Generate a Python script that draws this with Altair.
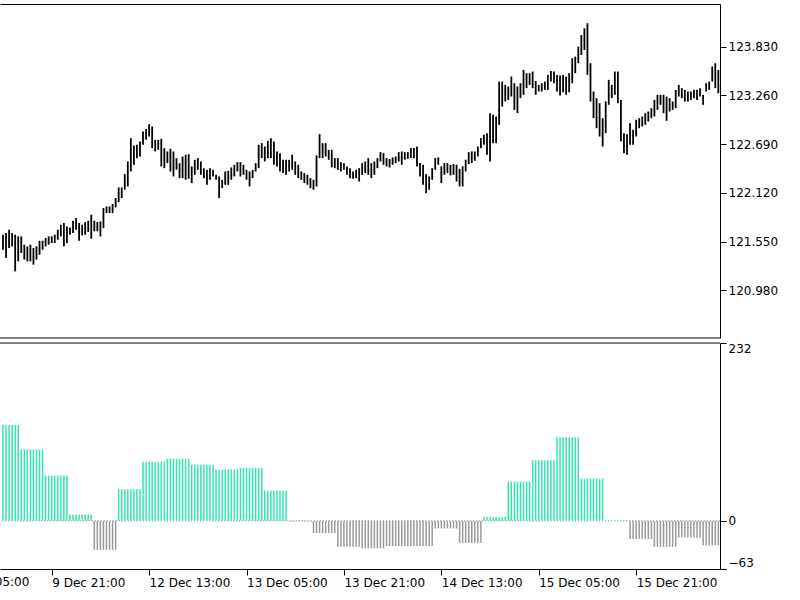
import altair as alt
import pandas as pd

# ---------------- data ----------------
# M30 bars: high / low prices, left to right
HIGH = [
    121.632, 121.651, 121.690, 121.651, 121.632, 121.612, 121.612, 121.515, 121.495, 121.515,
    121.476, 121.495, 121.561, 121.561, 121.593, 121.612, 121.612, 121.632, 121.690, 121.748,
    121.768, 121.729, 121.717, 121.795, 121.826, 121.768, 121.748, 121.779, 121.795, 121.865,
    121.795, 121.779, 121.787, 121.943, 121.962, 121.962, 121.990, 122.060, 122.184, 122.184,
    122.340, 122.488, 122.760, 122.675, 122.683, 122.722, 122.838, 122.869, 122.924, 122.897,
    122.741, 122.741, 122.753, 122.644, 122.605, 122.636, 122.605, 122.527,
    122.468, 122.546, 122.566, 122.573, 122.429, 122.507, 122.527, 122.488, 122.410, 122.390,
    122.410, 122.390, 122.332, 122.313, 122.274, 122.371, 122.379, 122.418, 122.449, 122.480,
    122.480, 122.449, 122.390, 122.371, 122.390, 122.468, 122.682, 122.702, 122.663, 122.729,
    122.760, 122.721, 122.605, 122.585, 122.507, 122.507, 122.507, 122.566, 122.488, 122.449,
    122.371, 122.352, 122.332, 122.293, 122.274, 122.558, 122.807, 122.702, 122.702, 122.624,
    122.624, 122.527, 122.527, 122.480, 122.468, 122.429, 122.410, 122.371, 122.390,
    122.410, 122.469, 122.488, 122.527, 122.469, 122.488, 122.527, 122.597, 122.585, 122.527,
    122.519, 122.535, 122.546, 122.597, 122.605, 122.597, 122.597, 122.644, 122.644, 122.663,
    122.469, 122.449, 122.340, 122.313, 122.410, 122.527, 122.535, 122.430, 122.469, 122.469,
    122.449, 122.457, 122.449, 122.402, 122.430, 122.508, 122.597, 122.605, 122.605, 122.663,
    122.761, 122.800, 122.819, 123.053, 123.033, 123.014, 123.422, 123.422, 123.383, 123.364,
    123.481, 123.403, 123.364, 123.403, 123.559, 123.520, 123.520, 123.539, 123.430, 123.383,
    123.403, 123.422, 123.500, 123.547, 123.539, 123.500, 123.493, 123.500, 123.481, 123.520,
    123.695, 123.714, 123.831, 123.967, 124.045, 124.104, 123.637, 123.306, 123.228, 123.169,
    122.994, 123.189, 123.442, 123.383, 123.539, 123.539, 123.208, 122.819, 122.807, 122.936,
    122.858, 122.975, 122.994, 123.014, 123.053, 123.072, 123.111, 123.208, 123.267, 123.267,
    123.267, 123.247, 123.228, 123.189, 123.325, 123.383, 123.345, 123.325, 123.306, 123.306,
    123.325, 123.325, 123.345, 123.267, 123.403, 123.422, 123.598, 123.637, 123.559,
]
LOW = [
    121.456, 121.359, 121.476, 121.495, 121.203, 121.320, 121.417, 121.340, 121.320, 121.320,
    121.281, 121.340, 121.398, 121.456, 121.495, 121.515, 121.534, 121.534, 121.573, 121.612,
    121.495, 121.534, 121.632, 121.651, 121.690, 121.561, 121.624, 121.632, 121.663, 121.585,
    121.671, 121.671, 121.612, 121.709, 121.885, 121.885, 121.885, 121.951, 122.013, 122.060,
    122.157, 122.196, 122.371, 122.449, 122.527, 122.546, 122.683, 122.741, 122.780, 122.644,
    122.605, 122.624, 122.430, 122.410, 122.469, 122.371, 122.313, 122.391,
    122.293, 122.293, 122.274, 122.285, 122.235, 122.332, 122.390, 122.332, 122.293, 122.215,
    122.274, 122.313, 122.274, 122.060, 122.176, 122.215, 122.215, 122.274, 122.313, 122.371,
    122.313, 122.332, 122.274, 122.196, 122.293, 122.371, 122.410, 122.527, 122.488, 122.527,
    122.527, 122.449, 122.429, 122.371, 122.352, 122.332, 122.371, 122.390, 122.332, 122.293,
    122.274, 122.235, 122.215, 122.176, 122.157, 122.196, 122.527, 122.527, 122.546, 122.507,
    122.418, 122.410, 122.390, 122.371, 122.390, 122.332, 122.293, 122.285, 122.293,
    122.254, 122.332, 122.352, 122.332, 122.293, 122.332, 122.410, 122.488, 122.449, 122.430,
    122.418, 122.449, 122.469, 122.488, 122.449, 122.508, 122.519, 122.527, 122.527, 122.430,
    122.313, 122.216, 122.118, 122.157, 122.274, 122.391, 122.449, 122.235, 122.332, 122.352,
    122.325, 122.332, 122.254, 122.196, 122.196, 122.371, 122.457, 122.469, 122.496, 122.546,
    122.644, 122.683, 122.566, 122.488, 122.702, 122.702, 122.916, 123.130, 123.189, 123.208,
    123.247, 123.091, 123.053, 123.228, 123.267, 123.345, 123.383, 123.345, 123.267, 123.306,
    123.306, 123.325, 123.325, 123.422, 123.403, 123.306, 123.259, 123.298, 123.267, 123.298,
    123.403, 123.520, 123.637, 123.734, 123.792, 123.500, 123.189, 122.994, 122.877, 122.780,
    122.663, 122.819, 123.150, 123.228, 123.267, 123.169, 122.722, 122.585, 122.566, 122.683,
    122.683, 122.780, 122.877, 122.897, 122.916, 122.955, 122.994, 123.014, 123.091, 123.150,
    123.053, 122.963, 123.072, 123.091, 123.111, 123.247, 123.228, 123.189, 123.189, 123.208,
    123.228, 123.208, 123.247, 123.150, 123.306, 123.325, 123.422, 123.345, 123.286,
]

# Indicator (one value per H4 period, 8 M30 bars each)
HIST_H4 = [125, 93, 59, 8, -38, 41, 77, 81, 73, 67, 69, 39, -1, -16, -34,
           -36, -33, -33, -10, -29, 5, 51, 79, 109, 55, 1, -24, -34, -22, -32]
H4_OFFSET = 2          # first visible bar is the 3rd M30 bar of its H4 period
BARS_PER_H4 = 8

# time axis (bar index -> label)
TICK_BARS = [-16, 16, 48, 80, 112, 144, 176, 208]
TICK_LABELS = ["9 Dec 05:00", "9 Dec 21:00", "12 Dec 13:00", "13 Dec 05:00",
               "13 Dec 21:00", "14 Dec 13:00", "15 Dec 05:00", "15 Dec 21:00"]

PRICE_TICKS = [120.980, 121.550, 122.120, 122.690, 123.260, 123.830]
HIST_TICKS = [-63, 0, 232]

X_DOMAIN = [-0.986, 235.55]
PRICE_DOMAIN = [120.424, 124.329]
HIST_DOMAIN = [-63, 232]

GREEN = "#33e6b0"
GREY = "#9a9a9a"
FONT = "DejaVu Sans"

# ---------------- tables ----------------
n = len(HIGH)
bars = pd.DataFrame({"i": list(range(n)), "high": HIGH, "low": LOW})
hv = [HIST_H4[(i + H4_OFFSET) // BARS_PER_H4] for i in range(n)]
hist = pd.DataFrame({
    "i": list(range(n)),
    "v": hv,
    "base": [0] * n,
    "dir": ["up" if v > 0 else "down" for v in hv],
})
in_dom = [(b, l) for b, l in zip(TICK_BARS, TICK_LABELS) if X_DOMAIN[0] <= b <= X_DOMAIN[1]]
out_dom = pd.DataFrame([{"i": b, "lab": l} for b, l in zip(TICK_BARS, TICK_LABELS)
                        if not (X_DOMAIN[0] <= b <= X_DOMAIN[1])])
label_expr = " : ".join(f"datum.value == {b} ? '{l}'" for b, l in in_dom) + " : ''"

# ---------------- encodings ----------------
x_scale = alt.Scale(domain=X_DOMAIN, nice=False, zero=False)
x_top = alt.X("i:Q", scale=x_scale,
              axis=alt.Axis(orient="top", labels=False, ticks=False, grid=False,
                            domain=True, title=None))
x_bottom = alt.X("i:Q", scale=x_scale,
                 axis=alt.Axis(orient="bottom", values=[b for b, _ in in_dom],
                               labelExpr=label_expr, labelAlign="left",
                               labelBaseline="top", labelPadding=2, tickSize=6,
                               labelFlush=False, labelOverlap=False, grid=False,
                               title=None))

price_scale = alt.Scale(domain=PRICE_DOMAIN, range=[334, 0], nice=False, zero=False)
hist_scale = alt.Scale(domain=HIST_DOMAIN, range=[565, 339], nice=False, zero=False)

price_axis = alt.Axis(orient="right", values=PRICE_TICKS, format=".3f", tickSize=6,
                      labelPadding=2, grid=False, title=None, labelFlush=False,
                      labelOverlap=False)
hist_axis = alt.Axis(orient="right", values=HIST_TICKS, format="d", tickSize=6,
                     labelPadding=2, grid=False, title=None, labelFlush=True,
                     labelOverlap=False)

# ---------------- price panel ----------------
price_bars = alt.Chart(bars).mark_rule(color="black", strokeWidth=1.8).encode(
    x=x_top,
    y=alt.Y("low:Q", scale=price_scale, axis=price_axis),
    y2="high:Q",
)
price_border = alt.Chart(pd.DataFrame({"low": [PRICE_DOMAIN[0]]})).mark_rule(
    color="black", strokeWidth=1).encode(y=alt.Y("low:Q", scale=price_scale, axis=price_axis))
price_panel = alt.layer(price_bars, price_border)

# ---------------- indicator panel ----------------
zero_line = alt.Chart(pd.DataFrame({"v": [0]})).mark_rule(
    color=GREY, strokeWidth=1, strokeDash=[1, 2]).encode(
    y=alt.Y("v:Q", scale=hist_scale, axis=hist_axis))
hist_bars = alt.Chart(hist).mark_rule(strokeWidth=1.5).encode(
    x=x_bottom,
    y=alt.Y("v:Q", scale=hist_scale, axis=hist_axis),
    y2="base:Q",
    color=alt.Color("dir:N", scale=alt.Scale(domain=["up", "down"], range=[GREEN, GREY]),
                    legend=None),
)
hist_border = alt.Chart(pd.DataFrame({"v": [HIST_DOMAIN[1]]})).mark_rule(
    color="black", strokeWidth=1).encode(y=alt.Y("v:Q", scale=hist_scale, axis=hist_axis))
cut_label = alt.Chart(out_dom).mark_text(
    align="left", baseline="top", dx=2, dy=8, font=FONT, fontSize=12, color="black").encode(
    x=x_bottom,
    y=alt.datum(HIST_DOMAIN[0]),
    text="lab:N",
)
hist_panel = alt.layer(zero_line, hist_bars, hist_border, cut_label)

chart = alt.layer(price_panel, hist_panel).resolve_scale(
    y="independent").resolve_axis(x="independent", y="independent").properties(
    width=720, height=565,
    autosize=alt.AutoSizeParams(type="none"),
    padding={"left": 0, "top": 4, "right": 80, "bottom": 31},
    background="white",
).configure_view(stroke=None).configure_axis(
    labelFont=FONT, labelFontSize=12, labelColor="black",
    domainColor="black", tickColor="black", domainWidth=1, tickWidth=1,
)

chart.save("out.html", embed_options={"renderer": "svg", "actions": False})
